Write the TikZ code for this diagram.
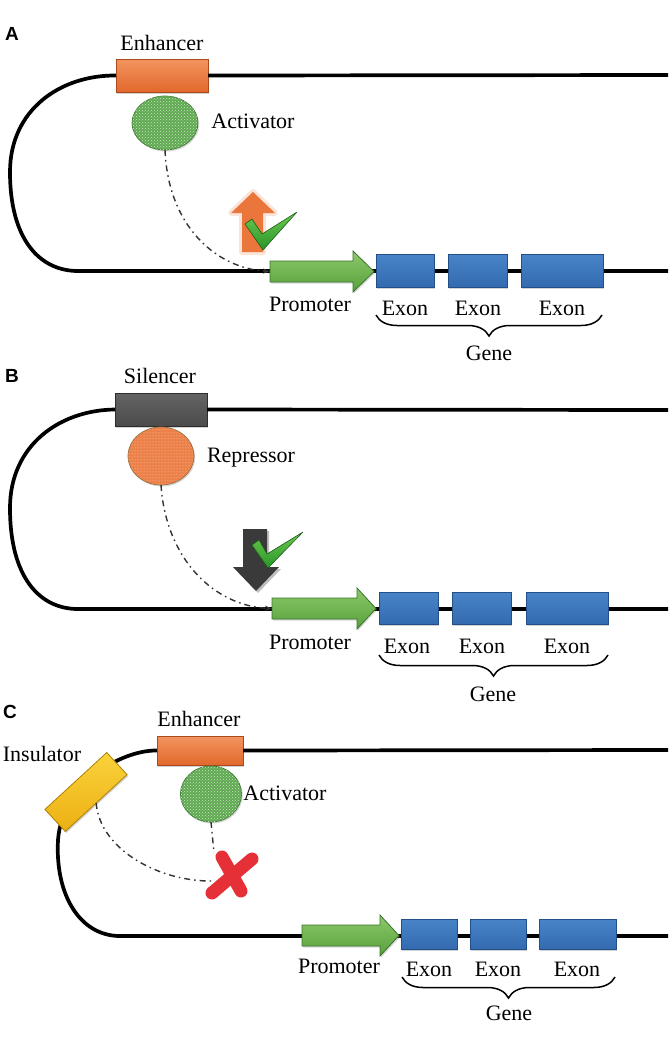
\documentclass[tikz,border=0pt]{standalone}
\usepackage{fontspec}
\setmainfont{Liberation Serif}
\newfontfamily\lblfont{Liberation Sans}
\usetikzlibrary{shapes.geometric,arrows.meta,decorations.pathreplacing,patterns,shadows}
\definecolor{enhL}{RGB}{243,148,95}
\definecolor{enhB}{RGB}{226,104,44}
\definecolor{enhD}{RGB}{170,74,26}
\definecolor{exL}{RGB}{72,132,200}
\definecolor{exB}{RGB}{52,106,176}
\definecolor{exD}{RGB}{35,78,135}
\definecolor{prL}{RGB}{140,200,105}
\definecolor{prB}{RGB}{88,160,60}
\definecolor{prD}{RGB}{55,115,45}
\definecolor{siL}{RGB}{100,100,100}
\definecolor{siB}{RGB}{75,75,75}
\definecolor{siD}{RGB}{45,45,45}
\definecolor{inL}{RGB}{250,210,60}
\definecolor{inB}{RGB}{236,176,18}
\definecolor{inD}{RGB}{175,128,0}
\definecolor{actC}{RGB}{95,170,80}
\definecolor{actD}{RGB}{65,125,55}
\definecolor{repC}{RGB}{236,128,72}
\definecolor{repD}{RGB}{150,110,60}
\definecolor{chkL}{RGB}{110,200,80}
\definecolor{chkB}{RGB}{40,150,40}
\definecolor{chkD}{RGB}{25,95,25}
\definecolor{upC}{RGB}{234,118,60}
\definecolor{dnC}{RGB}{58,58,58}
\definecolor{xC}{RGB}{230,48,56}
\definecolor{ddc}{RGB}{50,50,50}
\newcommand{\promoter}[5]{%
  \path[prom] (#2,#5-10.5) -- (#3,#5-10.5) -- (#3,#5-20.5) -- (#4,#5) -- (#3,#5+20.5) -- (#3,#5+10.5) -- (#2,#5+10.5) -- cycle;
  \coordinate (#1) at (#2,#5);
  \coordinate (#1tip) at (#4,#5);}
\begin{document}
\begin{tikzpicture}[x=1pt,y=-1pt,
  dna/.style={line width=3.7pt, black},
  txt/.style={font=\fontsize{22}{25}\selectfont, inner sep=0},
  lbl/.style={font=\lblfont\bfseries\fontsize{19}{21}\selectfont, inner sep=0},
  box/.style={inner sep=0, outer sep=0, line width=0.8pt, drop shadow={shadow xshift=1.2pt,shadow yshift=-1.5pt,opacity=0.35}},
  enhbox/.style={box, draw=enhD, top color=enhL, bottom color=enhB},
  silbox/.style={box, draw=siD, top color=siL, bottom color=siB},
  exbox/.style={box, draw=exD, top color=exL, bottom color=exB},
  insbox/.style={box, draw=inD, top color=inL, bottom color=inB},
  prom/.style={draw=prD, line width=0.8pt, top color=prL, bottom color=prB, drop shadow={shadow xshift=1.2pt,shadow yshift=-1.5pt,opacity=0.3}},
  blob/.style={ellipse, inner sep=0, outer sep=0, line width=0.7pt, drop shadow={shadow xshift=1.2pt,shadow yshift=-1.5pt,opacity=0.3}},
  actblob/.style={blob, draw=actD, fill=actC, postaction={pattern=crosshatch dots, pattern color=white!70!actC}},
  repblob/.style={blob, draw=repD, fill=repC, postaction={pattern=dots, pattern color=white!65!repC}},
  dd/.style={draw=ddc, line width=1.4pt, dash pattern=on 6pt off 4pt on 1.5pt off 4pt},
  ddarr/.style={dd, -{Stealth[length=7pt,width=5pt]}},
  brc/.style={decorate, decoration={brace, mirror, amplitude=21pt}, line width=1.5pt},
  chk/.style={draw=chkD, line width=0.6pt, top color=chkL, bottom color=chkB, line join=round},
  xstroke/.style={draw=xC, line width=13pt, line cap=round}
]
\useasboundingbox (0,0) rectangle (670,1045);

% ================= Panel A =================
\node[lbl] (labA) at (12,34) {A};
\coordinate (topEndA) at (668,75);
\coordinate (loopEndA) at (78,271);
\coordinate (botEndA) at (668,271);
\node[enhbox, minimum width=92pt, minimum height=33pt] (enhA) at (162,75.5) {};
\draw[dna] (enhA.east) -- (topEndA);
\draw[dna] (enhA.west) .. controls (60,75) and (10,110) .. (10,172) .. controls (10,240) and (40,271) .. (loopEndA) -- (botEndA);
\node[txt] (tEnhA) at (162,43) {Enhancer};
\node[actblob, minimum width=66pt, minimum height=54pt] (actA) at (165,123) {};
\node[txt] (tActA) at (253,121) {Activator};
% up arrow with glow
\draw[upC!45, line width=6pt, line join=round, opacity=0.45] (242,252) -- (242,213) -- (231,213) -- (253,192) -- (275,213) -- (263,213) -- (263,252) -- cycle;
\fill[upC] (242,252) -- (242,213) -- (231,213) -- (253,192) -- (275,213) -- (263,213) -- (263,252) -- cycle;
\path[chk] (245,224) -- (252,219) -- (262,234) -- (297,212) -- (263,250) -- cycle;
\promoter{promA}{270}{353}{374}{271.5}
\draw[ddarr] (actA.south) .. controls (168,225) and (215,268) .. (promA);
\node[exbox, minimum width=58pt, minimum height=33pt] (exA1) at (405,270.5) {};
\node[exbox, minimum width=59pt, minimum height=33pt] (exA2) at (477.5,270.5) {};
\node[exbox, minimum width=82pt, minimum height=33pt] (exA3) at (562,270.5) {};
\node[txt] (tPromA) at (310,304) {Promoter};
\node[txt] (tExA1) at (405,308) {Exon};
\node[txt] (tExA2) at (478,308) {Exon};
\node[txt] (tExA3) at (562,308) {Exon};
\coordinate (brA1) at (376,315);
\coordinate (brA2) at (602,315);
\draw[brc] (brA1) -- (brA2);
\node[txt] (tGeneA) at (489,353) {Gene};

% ================= Panel B =================
\node[lbl] (labB) at (12,376) {B};
\coordinate (topEndB) at (668,410);
\coordinate (loopEndB) at (78,609);
\coordinate (botEndB) at (668,609);
\node[silbox, minimum width=92pt, minimum height=33pt] (silB) at (161,409.5) {};
\draw[dna] (silB.east) -- (topEndB);
\draw[dna] (silB.west) .. controls (60,410) and (10,445) .. (10,508) .. controls (10,578) and (40,609) .. (loopEndB) -- (botEndB);
\node[txt] (tSilB) at (160,376) {Silencer};
\node[repblob, minimum width=66pt, minimum height=58pt] (repB) at (161,456) {};
\node[txt] (tRepB) at (251,458) {Repressor};
% down arrow with shadow
\fill[black, opacity=0.25] (245,531) -- (245,569) -- (235,569) -- (258,593) -- (281,569) -- (269,569) -- (269,531) -- cycle;
\fill[dnC] (243,529) -- (243,567) -- (233,567) -- (256,591) -- (279,567) -- (267,567) -- (267,529) -- cycle;
\path[chk] (252,545) -- (259,540) -- (267,554) -- (303,532) -- (268,568) -- cycle;
\promoter{promB}{272}{357}{376}{608.5}
\draw[ddarr] (repB.south) .. controls (166,560) and (215,606) .. (promB);
\node[exbox, minimum width=59pt, minimum height=32pt] (exB1) at (408.5,608) {};
\node[exbox, minimum width=59pt, minimum height=32pt] (exB2) at (481.5,608) {};
\node[exbox, minimum width=82pt, minimum height=32pt] (exB3) at (567,608) {};
\node[txt] (tPromB) at (310,642) {Promoter};
\node[txt] (tExB1) at (407,646) {Exon};
\node[txt] (tExB2) at (482,646) {Exon};
\node[txt] (tExB3) at (567,646) {Exon};
\coordinate (brB1) at (379,655);
\coordinate (brB2) at (608,655);
\draw[brc] (brB1) -- (brB2);
\node[txt] (tGeneB) at (493,694) {Gene};

% ================= Panel C =================
\node[lbl] (labC) at (10,712) {C};
\coordinate (topEndC) at (668,750);
\coordinate (loopEndC) at (120,936);
\coordinate (botEndC) at (668,936);
\node[enhbox, minimum width=86pt, minimum height=29pt] (enhC) at (200,750.5) {};
\draw[dna] (enhC.east) -- (topEndC);
\draw[dna] (enhC.west) .. controls (120,750) and (62,785) .. (58,840) .. controls (55,895) and (80,936) .. (loopEndC) -- (botEndC);
\node[txt] (tEnhC) at (199,719) {Enhancer};
\node[insbox, rotate=42.6, minimum width=84pt, minimum height=30pt] (insC) at (86,792) {};
\node[txt] (tInsC) at (42,754) {Insulator};
\node[actblob, minimum width=61pt, minimum height=56pt] (actC) at (211,794) {};
\node[txt] (tActC) at (285,793) {Activator};
\coordinate (xTop) at (214,853);
\coordinate (xLeft) at (213,881);
\draw[dd] (actC.south) -- (xTop);
\draw[dd] (insC.south) .. controls (100,850) and (160,882) .. (xLeft);
\draw[xstroke] (222,857) -- (241,891);
\draw[xstroke] (252,859) -- (212,893);
\promoter{promC}{302}{380}{399}{935.5}
\node[exbox, minimum width=56pt, minimum height=30pt] (exC1) at (429,934) {};
\node[exbox, minimum width=56pt, minimum height=30pt] (exC2) at (498,934) {};
\node[exbox, minimum width=77pt, minimum height=30pt] (exC3) at (577.5,934) {};
\node[txt] (tPromC) at (339,966) {Promoter};
\node[txt] (tExC1) at (429,969) {Exon};
\node[txt] (tExC2) at (498,969) {Exon};
\node[txt] (tExC3) at (577,969) {Exon};
\coordinate (brC1) at (402,977);
\coordinate (brC2) at (615,977);
\draw[brc] (brC1) -- (brC2);
\node[txt] (tGeneC) at (509,1013) {Gene};
\end{tikzpicture}
\end{document}
